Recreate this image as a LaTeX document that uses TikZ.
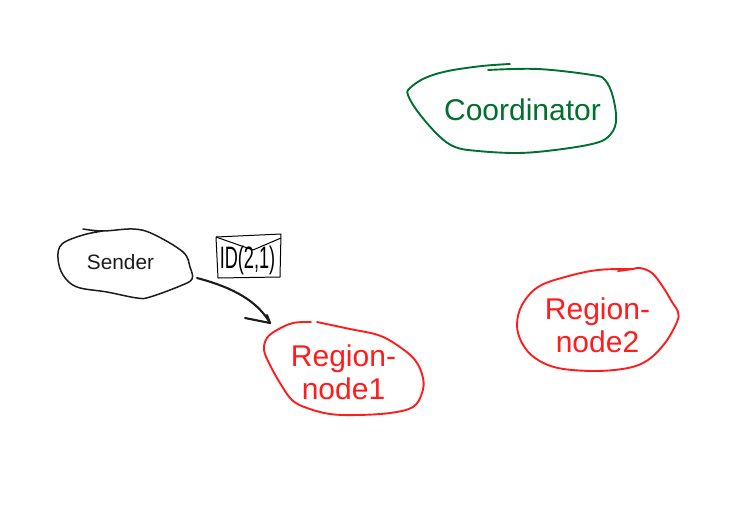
\documentclass[tikz,border=0pt]{standalone}
\usepackage{fontspec}
\setmainfont{Liberation Sans}
\usepackage{xcolor}
\definecolor{coordgreen}{HTML}{00702F}
\definecolor{regionred}{HTML}{FF1C1C}
\definecolor{senderblack}{HTML}{1C1C1C}
\tikzset{
    blob/.style={line width=1.9pt,line cap=round,line join=round},
    biglabel/.style={font=\fontsize{30}{33}\selectfont,align=center,inner sep=0pt},
}
\begin{document}
\begin{tikzpicture}[x=1pt,y=-1pt]
            \useasboundingbox (0,0) rectangle (748,512);
            % Labels
            \node[biglabel,text=coordgreen] (coordinator) at (522.5,110) {Coordinator};
            \node[biglabel,text=regionred] (region1) at (343.5,372) {Region-\\node1};
            \node[biglabel,text=regionred] (region2) at (597.5,325) {Region-\\node2};
            \node[inner sep=0pt,text=senderblack,font=\fontsize{20.8}{24}\selectfont] (sender) at (120.5,262) {Sender};
            \node[inner sep=0pt,font=\fontsize{31}{34}\selectfont,xscale=0.585] (msg) at (247.5,260) {ID(2,1)};
            % Outlines
            \draw[blob,senderblack,line width=1.5pt] plot[smooth,tension=0.6] coordinates {(83,229) (103,231) (133,229) (153,234) (183,252) (190,267) (192,279) (180,286) (150,297) (137,298) (107,292) (77,287) (63,275) (58,258) (62,244) (83,235) (103,231)};
            \draw[blob,coordgreen] plot[smooth,tension=0.6] coordinates {(510,64) (482,66) (448,71) (425,78) (410,88) (408,95) (418,112) (438,135) (455,147) (478,151) (518,153) (555,150) (592,144) (608,137) (616,122) (613,97) (605,80) (592,75) (538,69) (488,70)};
            \draw[blob,regionred] plot[smooth,tension=0.6] coordinates {(311,322) (293,323) (277,330) (267,338) (264,350) (270,365) (280,383) (292,400) (307,408) (330,414) (357,415) (390,413) (413,407) (422,393) (423,378) (415,360) (397,345) (378,335) (350,329) (317,322)};
            \draw[blob,regionred] plot[smooth,tension=0.6] coordinates {(618,271) (633,269) (640,268) (652,273) (663,287) (672,302) (678,312) (677,322) (665,343) (648,360) (628,368) (595,371) (558,368) (535,358) (522,343) (517,325) (522,305) (538,287) (565,277) (598,270) (633,269)};
            % Envelope
            \draw[line width=1pt,line join=round] (216,237) -- (281,234) -- (280,277) -- (218,278) -- cycle;
            \draw[line width=1pt,line join=round] (216,237) -- (253,250) -- (281,238);
            % Arrow
            \coordinate (arrowstart) at (197,278);
            \coordinate (arrowtip) at (270,323);
            \coordinate (barbleft) at (245,318);
            \coordinate (barbtop) at (267,315);
            \draw[line width=2.1pt,line cap=round,senderblack] (arrowstart) .. controls (235,288) and (258,302) .. (arrowtip);
            \draw[line width=2.1pt,line cap=round,line join=round,senderblack] (barbleft) -- (arrowtip) -- (barbtop);
\end{tikzpicture}
\end{document}
